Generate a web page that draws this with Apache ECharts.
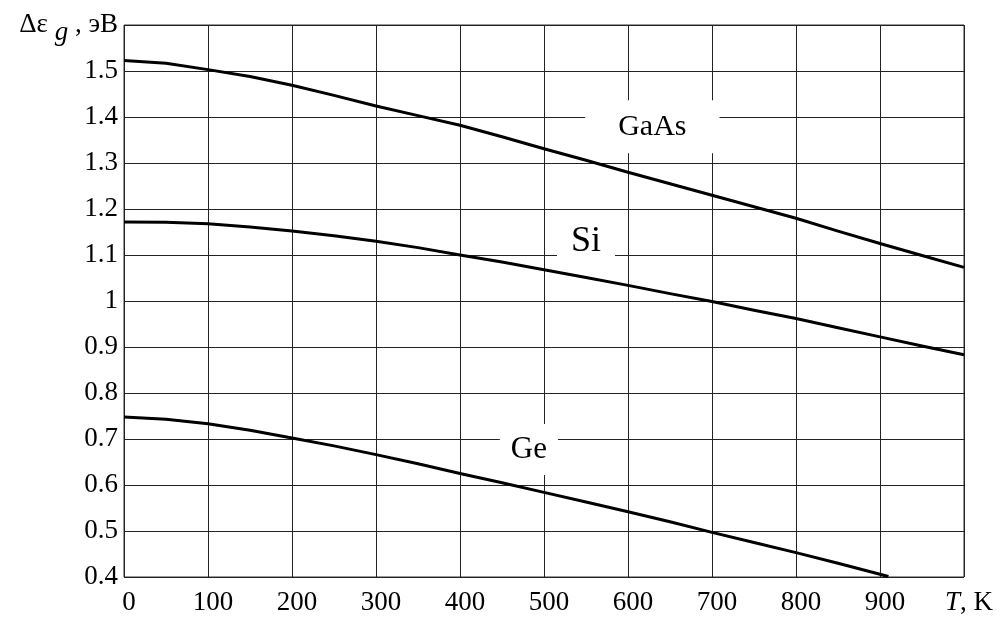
<!DOCTYPE html>
<html>
<head>
<meta charset="utf-8">
<script src="https://cdn.jsdelivr.net/npm/echarts@6/dist/echarts.min.js"></script>
<style>
    html, body { margin: 0; padding: 0; background: #fff; }
    #chart { width: 1003px; height: 617px; }
</style>
</head>
<body>
<div id="chart"></div>
<script>
// температура, К
const temps = [0, 50, 100, 150, 200, 250, 300, 350, 400, 450, 500,
    550, 600, 650, 700, 750, 800, 850, 900, 950, 1000];

// ширина запрещённой зоны, эВ
const gaas = [1.523, 1.517, 1.503, 1.488, 1.469, 1.447, 1.424, 1.403, 1.382, 1.357, 1.331,
    1.306, 1.280, 1.255, 1.230, 1.205, 1.180, 1.152, 1.125, 1.099, 1.073];
const si = [1.172, 1.171, 1.168, 1.161, 1.152, 1.142, 1.130, 1.116, 1.100, 1.085, 1.068,
    1.051, 1.034, 1.016, 0.999, 0.980, 0.962, 0.942, 0.922, 0.902, 0.883];

// германий уходит за нижнюю границу около 910 К
const tempsGe = [0, 50, 100, 150, 200, 250, 300, 350, 400, 450, 500,
    550, 600, 650, 700, 750, 800, 850, 900, 910];
const ge = [0.748, 0.743, 0.733, 0.719, 0.702, 0.685, 0.666, 0.646, 0.625, 0.605, 0.584,
    0.563, 0.542, 0.520, 0.497, 0.475, 0.453, 0.430, 0.406, 0.401];

// подписи кривых (в координатах графика)
const labelNames = ['GaAs', 'Si', 'Ge'];
const labelT = [629, 550, 482];
const labelE = [1.379, 1.130, 0.677];

const serif = '"Liberation Serif", "Times New Roman", serif';
const tickSize = 27;

// оформление подписей кривых: размер шрифта и поля белой плашки
const labelStyle = {
    'GaAs': { fontSize: 30, padding: [16, 33, 7, 33] },
    'Si': { fontSize: 36, padding: [4, 14, 2, 14] },
    'Ge': { fontSize: 31, padding: [10, 11, 10, 11] }
};

const pairs = (xs, ys) => xs.map((x, i) => [x, ys[i]]);

const curve = (name, data) => ({
    name: name,
    type: 'line',
    data: data,
    smooth: false,
    showSymbol: false,
    lineStyle: { color: '#000', width: 3, join: 'round' },
    z: 3
});

const chart = echarts.init(document.getElementById('chart'));

const option = {
    animation: false,
    backgroundColor: '#fff',
    grid: {
        left: 124,
        right: 39,
        top: 25,
        bottom: 40,
        show: true,
        borderColor: '#333',
        borderWidth: 1
    },
    xAxis: {
        type: 'value',
        min: 0,
        max: 1000,
        interval: 100,
        axisLine: { show: false },
        axisTick: { show: false },
        splitLine: { lineStyle: { color: '#222', width: 1 } },
        axisLabel: {
            margin: 12,
            padding: [0, 0, 0, 10],
            color: '#000',
            fontFamily: serif,
            fontSize: tickSize,
            // вместо 1000 — обозначение оси
            formatter: v => v === 1000 ? '{i|T}, K' : String(v),
            rich: {
                i: { fontStyle: 'italic', fontFamily: serif, fontSize: tickSize, color: '#000' }
            }
        }
    },
    yAxis: {
        type: 'value',
        min: 0.4,
        max: 1.6,
        interval: 0.1,
        axisLine: { show: false },
        axisTick: { show: false },
        splitLine: { lineStyle: { color: '#222', width: 1 } },
        axisLabel: {
            margin: 6,
            color: '#000',
            fontFamily: serif,
            fontSize: tickSize,
            // вместо 1.6 — обозначение оси
            formatter: v => v > 1.55 ? '{n|Δε }{g|g}{n| , эВ}' : String(Math.round(v * 10) / 10),
            rich: {
                n: { fontFamily: serif, fontSize: tickSize, color: '#000' },
                g: { fontFamily: serif, fontSize: tickSize, fontStyle: 'italic', color: '#000', padding: [16, 0, 0, 0] }
            }
        }
    },
    series: [
        curve('GaAs', pairs(temps, gaas)),
        curve('Si', pairs(temps, si)),
        curve('Ge', pairs(tempsGe, ge)),
        {
            type: 'scatter',
            symbolSize: 0,
            silent: true,
            z: 5,
            itemStyle: { opacity: 1 },
            label: {
                show: true,
                position: 'inside',
                formatter: '{b}',
                color: '#000',
                opacity: 1,
                fontFamily: serif,
                backgroundColor: '#fff'
            },
            data: labelNames.map((n, i) => ({
                name: n,
                value: [labelT[i], labelE[i]],
                label: labelStyle[n]
            }))
        }
    ]
};

chart.setOption(option);
</script>
</body>
</html>
